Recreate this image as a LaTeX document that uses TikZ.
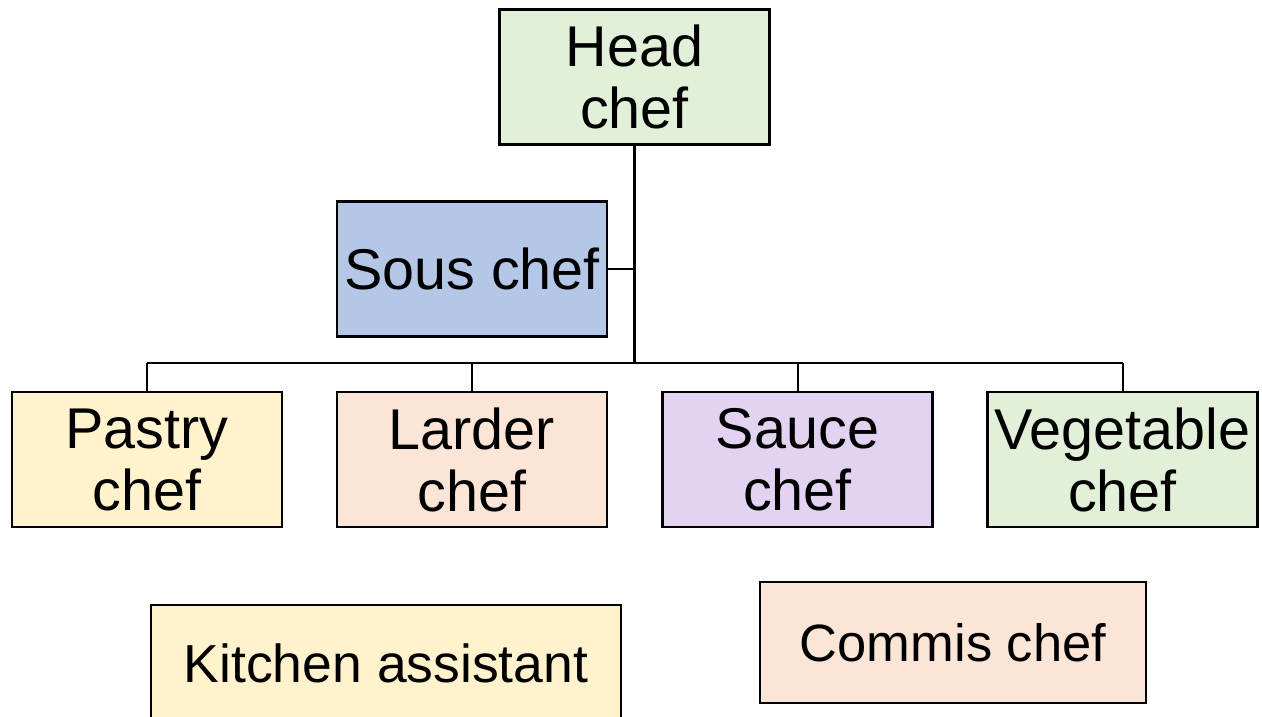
\documentclass[tikz,border=0pt]{standalone}
\usepackage{fontspec}
\setmainfont{Liberation Sans}
\definecolor{headgreen}{HTML}{E2EFD9}
\definecolor{sousblue}{HTML}{B4C7E7}
\definecolor{creamyellow}{HTML}{FFF2CC}
\definecolor{peach}{HTML}{FBE5D6}
\definecolor{lilac}{HTML}{E2D3F2}
\begin{document}
\begin{tikzpicture}[x=1pt,y=-1pt,
  rolebox/.style={draw=black, line width=2.5pt, rectangle, inner sep=0pt,
    align=center, font=\fontsize{57.5}{62}\selectfont},
  rank/.style={rolebox, minimum width=270pt, minimum height=135pt},
  link/.style={draw=black, line width=2pt},
  trunk/.style={draw=black, line width=2.6pt}]
\useasboundingbox (0,0) rectangle (1262,716);
\clip (0,0) rectangle (1262,716);

% top of the brigade
\node[rank, fill=headgreen] (head) at (634.5,77) {Head\\chef};
\node[rank, fill=sousblue] (sous) at (472,269) {Sous chef};

% station chefs
\node[rank, fill=creamyellow] (pastry) at (147,459.5) {Pastry\\chef};
\node[rank, fill=peach] (larder) at (472,459.5) {Larder\\chef};
\node[rank, fill=lilac] (sauce) at (797.5,459.5) {Sauce\\chef};
\node[rank, fill=headgreen] (veg) at (1122.5,459.5) {Vegetable\\chef};

% unattached roles
\node[rolebox, fill=creamyellow, minimum width=470pt, minimum height=116pt,
  font=\fontsize{53.5}{58}\selectfont] (kitchen) at (386,663) {Kitchen assistant};
\node[rolebox, fill=peach, minimum width=386pt, minimum height=121pt,
  font=\fontsize{52.5}{58}\selectfont] (commis) at (953,642.5) {Commis chef};

% connectors
\coordinate (hub) at (634.5,363);
\draw[trunk] (head.south) -- (head.south |- hub);
\draw[link] (sous.east) -- (sous.east -| head.south);
\draw[link] (pastry.north |- hub) -- (veg.north |- hub);
\draw[link] (pastry.north) -- (pastry.north |- hub);
\draw[link] (larder.north) -- (larder.north |- hub);
\draw[link] (sauce.north) -- (sauce.north |- hub);
\draw[link] (veg.north) -- (veg.north |- hub);
\end{tikzpicture}
\end{document}
